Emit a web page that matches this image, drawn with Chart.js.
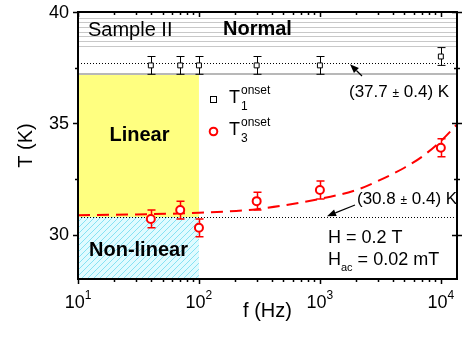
<!DOCTYPE html>
<html>
<head>
<meta charset="utf-8">
<script src="https://cdn.jsdelivr.net/npm/chart.js@4"></script>
<style>
  body { margin: 0; background: #fff; }
</style>
</head>
<body>
<canvas id="chart" width="463" height="340"></canvas>
<script>
// measured onset temperatures vs. ac frequency
const freqs = [40, 70, 100, 300, 1000, 10000];
const t1Onset = [37.6, 37.6, 37.6, 37.6, 37.6, 38.0];
const t1Err = [0.4, 0.4, 0.4, 0.4, 0.4, 0.4];
const t3Onset = [30.7, 31.1, 30.3, 31.5, 32.0, 33.9];
const t3Err = [0.4, 0.4, 0.4, 0.4, 0.4, 0.4];

// fitted T3 curve
const fitFreqs = [10, 30, 100, 300, 1000, 2000, 3000, 5000, 7000, 10000, 13600];
const fitT = [30.87, 30.9, 30.98, 31.14, 31.6, 32.0, 32.4, 33.0, 33.5, 34.2, 34.95];

// axis ticks
const xMin = 10, xMax = 13600;
const yMin = 28, yMax = 40;
const xDecades = [10, 100, 1000, 10000];
const yTicks = [30, 35, 40];
const yMinor = [32.5, 37.5];

// regions
const tNormal = 37.2;      // lower edge of the normal-state band
const tLinear = 30.8;      // linear / non-linear boundary
const fSplit = 100;        // right edge of the linear / non-linear boxes
const normalLines = [39.75, 39.54, 39.33, 39.12, 38.91, 38.7, 38.49];
const t1Level = 37.7;
const t3Level = 30.8;

const FONT = '"Liberation Sans", Arial, sans-serif';

function font(size, bold) {
  return (bold ? 'bold ' : '') + size + 'px ' + FONT;
}

// draws a run of text pieces: [text, size, baselineShift, bold]
function textRun(ctx, x, y, parts, align) {
  let w = 0;
  parts.forEach(p => { ctx.font = font(p[1], p[3]); w += ctx.measureText(p[0]).width; });
  let cx = align === 'center' ? x - w / 2 : align === 'right' ? x - w : x;
  ctx.textAlign = 'left';
  ctx.textBaseline = 'alphabetic';
  parts.forEach(p => {
    ctx.font = font(p[1], p[3]);
    ctx.fillText(p[0], cx, y + (p[2] || 0));
    cx += ctx.measureText(p[0]).width;
  });
}

function arrow(ctx, x0, y0, x1, y1) {
  const ang = Math.atan2(y1 - y0, x1 - x0);
  const len = 9, half = 3.5;
  const bx = x1 - len * Math.cos(ang), by = y1 - len * Math.sin(ang);
  ctx.beginPath();
  ctx.moveTo(x0, y0);
  ctx.lineTo(bx, by);
  ctx.stroke();
  ctx.beginPath();
  ctx.moveTo(x1, y1);
  ctx.lineTo(bx + half * Math.sin(ang), by - half * Math.cos(ang));
  ctx.lineTo(bx - half * Math.sin(ang), by + half * Math.cos(ang));
  ctx.closePath();
  ctx.fill();
}

function hatch() {
  const c = document.createElement('canvas');
  c.width = 6; c.height = 6;
  const g = c.getContext('2d');
  g.fillStyle = '#e0fbff';
  g.fillRect(0, 0, 6, 6);
  g.strokeStyle = '#86e2f3';
  g.lineWidth = 1;
  g.beginPath();
  g.moveTo(-1, 7); g.lineTo(7, -1);
  g.moveTo(-1, 1); g.lineTo(1, -1);
  g.moveTo(5, 7); g.lineTo(7, 5);
  g.stroke();
  return g.createPattern(c, 'repeat');
}

const backdrop = {
  id: 'backdrop',
  beforeDatasetsDraw(chart) {
    const { ctx, chartArea: a, scales: { x, y } } = chart;
    const xl = x.getPixelForValue(xMin), xs = x.getPixelForValue(fSplit);
    ctx.save();
    // normal state band
    ctx.strokeStyle = '#c8c8c8';
    ctx.lineWidth = 1;
    normalLines.forEach(t => {
      const yy = Math.round(y.getPixelForValue(t)) + 0.5;
      ctx.beginPath(); ctx.moveTo(a.left, yy); ctx.lineTo(a.right, yy); ctx.stroke();
    });
    const yN = Math.round(y.getPixelForValue(tNormal));
    const yL = Math.round(y.getPixelForValue(tLinear));
    // linear region
    ctx.fillStyle = '#ffff80';
    ctx.fillRect(xl, yN, xs - xl, yL - yN);
    // non-linear region
    ctx.fillStyle = hatch();
    ctx.fillRect(xl, yL, xs - xl, a.bottom - yL);
    ctx.strokeStyle = '#b8b8b8';
    ctx.lineWidth = 2;
    ctx.beginPath(); ctx.moveTo(a.left, yN); ctx.lineTo(a.right, yN); ctx.stroke();
    // onset levels
    ctx.strokeStyle = '#000';
    ctx.lineWidth = 1;
    ctx.setLineDash([1, 2]);
    [t1Level, t3Level].forEach(t => {
      const yy = Math.round(y.getPixelForValue(t)) + 0.5;
      ctx.beginPath(); ctx.moveTo(a.left, yy); ctx.lineTo(a.right, yy); ctx.stroke();
    });
    ctx.restore();
  }
};

const errorBars = {
  id: 'errorBars',
  beforeDatasetDraw(chart, args) {
    const ds = chart.data.datasets[args.index];
    if (!ds.errors) return;
    const { ctx, scales: { x, y } } = chart;
    ctx.save();
    ctx.strokeStyle = ds.borderColor;
    ctx.lineWidth = ds.errWidth;
    ds.data.forEach((p, i) => {
      const xx = Math.round(x.getPixelForValue(p.x)) + 0.5;
      const y0 = y.getPixelForValue(p.y - ds.errors[i]);
      const y1 = y.getPixelForValue(p.y + ds.errors[i]);
      ctx.beginPath();
      ctx.moveTo(xx, y0); ctx.lineTo(xx, y1);
      ctx.moveTo(xx - 4, y0); ctx.lineTo(xx + 4, y0);
      ctx.moveTo(xx - 4, y1); ctx.lineTo(xx + 4, y1);
      ctx.stroke();
    });
    ctx.restore();
  }
};

const frame = {
  id: 'frame',
  afterDraw(chart) {
    const { ctx, chartArea: a, scales: { x, y } } = chart;
    ctx.save();
    ctx.strokeStyle = '#000';
    ctx.fillStyle = '#000';
    ctx.lineWidth = 2;
    ctx.strokeRect(a.left, a.top, a.right - a.left, a.bottom - a.top);

    // log ticks, bottom (outward) and top (inward)
    ctx.lineWidth = 1.5;
    ctx.beginPath();
    xDecades.forEach(d => {
      for (let k = 1; k <= 9; k++) {
        const f = d * k;
        if (f > xMax) break;
        const xx = Math.round(x.getPixelForValue(f)) + 0.5;
        const len = k === 1 ? 5 : 3;
        ctx.moveTo(xx, a.bottom); ctx.lineTo(xx, a.bottom + len);
        ctx.moveTo(xx, a.top); ctx.lineTo(xx, a.top + len);
      }
    });
    // y ticks
    yTicks.concat(yMinor).forEach(t => {
      const yy = Math.round(y.getPixelForValue(t)) + 0.5;
      const len = yTicks.includes(t) ? 5 : 3;
      ctx.moveTo(a.left - len, yy); ctx.lineTo(a.left, yy);
      ctx.moveTo(a.right - len, yy); ctx.lineTo(a.right + len, yy);
    });
    ctx.stroke();

    // tick labels
    xDecades.forEach(d => {
      const xx = x.getPixelForValue(d);
      textRun(ctx, xx, 308, [['10', 18], [String(Math.round(Math.log10(d))), 12, -9]], 'center');
    });
    ctx.font = font(18);
    ctx.textAlign = 'right';
    ctx.textBaseline = 'middle';
    yTicks.forEach(t => ctx.fillText(String(t), 69, y.getPixelForValue(t) + 1));

    // axis titles
    ctx.font = font(20);
    ctx.textAlign = 'center';
    ctx.textBaseline = 'alphabetic';
    ctx.fillText('f (Hz)', (a.left + a.right) / 2, 317);
    ctx.save();
    ctx.translate(32, (a.top + a.bottom) / 2);
    ctx.rotate(-Math.PI / 2);
    ctx.fillText('T (K)', 0, 0);
    ctx.restore();

    // region labels
    textRun(ctx, 88, 36, [['Sample II', 20]], 'left');
    textRun(ctx, 223, 35, [['Normal', 20, 0, true]], 'left');
    const xMid = (x.getPixelForValue(xMin) + x.getPixelForValue(fSplit)) / 2;
    textRun(ctx, xMid + 1, 141, [['Linear', 20, 0, true]], 'center');
    textRun(ctx, xMid, 256, [['Non-linear', 20, 0, true]], 'center');

    // legend
    ctx.lineWidth = 1;
    ctx.strokeStyle = '#000';
    ctx.fillStyle = '#fff';
    ctx.fillRect(210, 96, 6, 6);
    ctx.strokeRect(210.5, 96.5, 6, 6);
    ctx.strokeStyle = '#ff0000';
    ctx.lineWidth = 2;
    ctx.beginPath(); ctx.arc(213.5, 131.5, 3.8, 0, Math.PI * 2); ctx.stroke();
    ctx.fillStyle = '#000';
    textRun(ctx, 229, 103, [['T', 18]], 'left');
    textRun(ctx, 241, 110, [['1', 12]], 'left');
    textRun(ctx, 241, 94, [['onset', 12]], 'left');
    textRun(ctx, 229, 135, [['T', 18]], 'left');
    textRun(ctx, 241, 142, [['3', 12]], 'left');
    textRun(ctx, 241, 126, [['onset', 12]], 'left');

    // onset annotations
    textRun(ctx, 349, 97, [['(37.7 ', 17], ['±', 12], [' 0.4) K', 17]], 'left');
    textRun(ctx, 357, 204, [['(30.8 ', 17], ['±', 12], [' 0.4) K', 17]], 'left');
    ctx.strokeStyle = '#000';
    ctx.lineWidth = 1.2;
    arrow(ctx, 362, 76, 350, y.getPixelForValue(t1Level) + 1);
    arrow(ctx, 355, 205, 327, y.getPixelForValue(t3Level) - 0.5);

    // field values
    textRun(ctx, 328, 243, [['H = 0.2 T', 18]], 'left');
    textRun(ctx, 328, 265, [['H', 18], ['ac', 11, 6], [' = 0.02 mT', 18]], 'left');
    ctx.restore();
  }
};

new Chart(document.getElementById('chart').getContext('2d'), {
  type: 'scatter',
  data: {
    datasets: [
      {
        label: 'T1 onset',
        data: freqs.map((f, i) => ({ x: f, y: t1Onset[i] })),
        pointStyle: 'rect',
        pointRadius: 3.5,
        borderWidth: 1,
        borderColor: '#000000',
        backgroundColor: '#ffffff',
        errors: t1Err,
        errWidth: 1,
        order: 1
      },
      {
        label: 'T3 onset',
        data: freqs.map((f, i) => ({ x: f, y: t3Onset[i] })),
        pointStyle: 'circle',
        pointRadius: 4,
        borderWidth: 2,
        borderColor: '#ff0000',
        backgroundColor: '#ffffff',
        errors: t3Err,
        errWidth: 1.5,
        order: 2
      },
      {
        type: 'line',
        label: 'fit',
        data: fitFreqs.map((f, i) => ({ x: f, y: fitT[i] })),
        borderColor: '#ff0000',
        borderWidth: 2,
        borderDash: [12, 7],
        pointRadius: 0,
        fill: false,
        cubicInterpolationMode: 'monotone',
        order: 3
      }
    ]
  },
  options: {
    responsive: false,
    animation: false,
    devicePixelRatio: 1,
    layout: { padding: { left: 78, right: 6, top: 12, bottom: 61 } },
    plugins: { legend: { display: false }, tooltip: { enabled: false } },
    scales: {
      x: { type: 'logarithmic', min: xMin, max: xMax, display: false },
      y: { type: 'linear', min: yMin, max: yMax, display: false }
    }
  },
  plugins: [backdrop, errorBars, frame]
});
</script>
</body>
</html>
